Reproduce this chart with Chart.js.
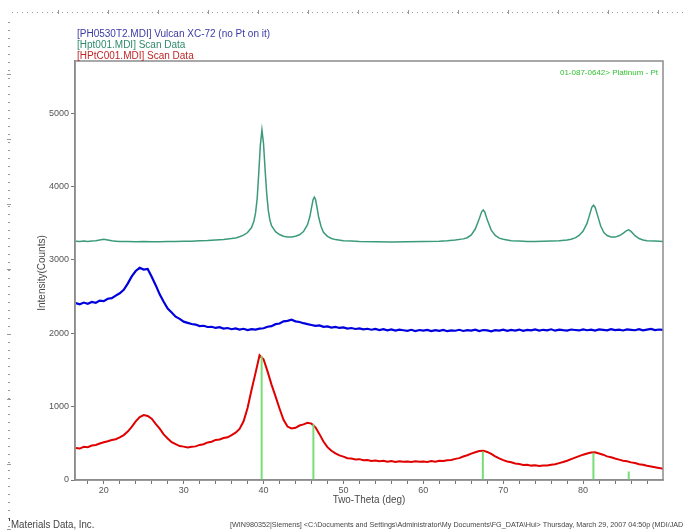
<!DOCTYPE html>
<html>
<head>
<meta charset="utf-8">
<title>XRD scan overlay</title>
<script src="https://cdn.jsdelivr.net/npm/chart.js@4.4.0/dist/chart.umd.min.js"></script>
<style>
  html, body { margin: 0; padding: 0; background: #fff; }
  canvas { display: block; }
</style>
</head>
<body>
<canvas id="xrd-chart" width="683" height="532"></canvas>
<script>
// Two-theta grid shared by the Vulcan and HPtC scans (deg)
const angles = [
  16.5, 17, 17.5, 18, 18.5, 19, 19.5,
  20, 20.5, 21, 21.5, 22, 22.5, 23, 23.5, 24, 24.5,
  25, 25.5, 26, 26.5, 27, 27.5, 28, 28.5, 29, 29.5,
  30, 30.5, 31, 31.5, 32, 32.5, 33, 33.5, 34, 34.5,
  35, 35.5, 36, 36.5, 37, 37.5, 38, 38.5, 39, 39.5,
  40, 40.5, 41, 41.5, 42, 42.5, 43, 43.5, 44, 44.5,
  45, 45.5, 46, 46.5, 47, 47.5, 48, 48.5, 49, 49.5,
  50, 50.5, 51, 51.5, 52, 52.5, 53, 53.5, 54, 54.5,
  55, 55.5, 56, 56.5, 57, 57.5, 58, 58.5, 59, 59.5,
  60, 60.5, 61, 61.5, 62, 62.5, 63, 63.5, 64, 64.5,
  65, 65.5, 66, 66.5, 67, 67.5, 68, 68.5, 69, 69.5,
  70, 70.5, 71, 71.5, 72, 72.5, 73, 73.5, 74, 74.5,
  75, 75.5, 76, 76.5, 77, 77.5, 78, 78.5, 79, 79.5,
  80, 80.5, 81, 81.5, 82, 82.5, 83, 83.5, 84, 84.5,
  85, 85.5, 86, 86.5, 87, 87.5, 88, 88.5, 89, 89.5,
  90
];

// [PH0530T2.MDI] Vulcan XC-72 (no Pt on it)
const vulcanCounts = [
  2410, 2395, 2418, 2402, 2426, 2415, 2445,
  2438, 2470, 2478, 2512, 2545, 2592, 2676, 2775, 2848, 2892,
  2868, 2876, 2770, 2655, 2530, 2428, 2335, 2282, 2225, 2196,
  2158, 2142, 2126, 2118, 2098, 2102, 2085, 2088, 2072, 2082,
  2064, 2071, 2055, 2066, 2050, 2061, 2044, 2057, 2049, 2062,
  2068, 2088, 2097, 2124, 2133, 2162, 2168, 2184, 2162, 2153,
  2137, 2124, 2112, 2101, 2106, 2088, 2094, 2078, 2086, 2072,
  2080, 2064, 2071, 2058, 2066, 2052, 2061, 2048, 2058, 2044,
  2055, 2040, 2052, 2036, 2048, 2041, 2033, 2047, 2030, 2044,
  2035, 2046, 2029, 2041, 2033, 2045, 2028, 2040, 2034, 2047,
  2031, 2043, 2036, 2049, 2030, 2044, 2038, 2026, 2042, 2035,
  2048, 2033, 2045, 2037, 2050, 2032, 2046, 2039, 2052, 2036,
  2047, 2040, 2054, 2035, 2049, 2042, 2037, 2051, 2044, 2038,
  2053, 2041, 2048, 2036, 2052, 2045, 2039, 2055, 2043, 2050,
  2038, 2052, 2046, 2041, 2056, 2040, 2049, 2058, 2043, 2051,
  2046
];

// [HPtC001.MDI] Scan Data
const hptcCounts = [
  436, 428, 452, 448, 470, 478, 498,
  514, 528, 545, 556, 580, 612, 660, 725, 800, 858,
  885, 872, 835, 765, 700, 622, 565, 515, 488, 462,
  455, 442, 452, 458, 478, 488, 512, 522, 546, 552,
  572, 582, 612, 645, 695, 800, 980, 1230, 1460, 1700,
  1645, 1480, 1300, 1140, 975, 820, 728, 702, 712, 742,
  758, 780, 768, 718, 625, 525, 448, 398, 362, 335,
  318, 296, 292, 280, 284, 268, 272, 258, 266, 255,
  262, 250, 258, 246, 255, 248, 252, 244, 256, 248,
  252, 246, 258, 250, 262, 258, 270, 272, 288, 298,
  320, 338, 360, 378, 395, 400, 382, 355, 322, 295,
  270, 252, 242, 225, 218, 206, 208, 196, 200, 190,
  196, 198, 208, 215, 230, 245, 262, 285, 305, 325,
  345, 362, 375, 378, 362, 345, 322, 310, 292, 278,
  262, 255, 240, 232, 215, 208, 195, 185, 175, 165,
  152
];

// [Hpt001.MDI] Scan Data, sampled finer around the sharp Pt reflections
const hptAngles = [
  16.5, 17, 17.5, 18, 18.5, 19, 19.5, 20, 20.5, 21, 21.5, 22, 23, 24, 25, 26, 27, 28, 29,
  30, 31, 32, 33, 34, 35, 36, 36.5, 37, 37.5, 38, 38.5, 38.8, 39, 39.2, 39.4, 39.6, 39.8,
  40, 40.2, 40.4, 40.6, 40.8, 41, 41.5, 42, 42.5, 43, 43.5, 44, 44.5, 45, 45.5, 45.8,
  46, 46.2, 46.35, 46.5, 46.7, 46.9, 47.2, 47.5, 48, 48.5, 49, 50, 51, 52, 54, 56, 58,
  60, 62, 63, 64, 65, 65.5, 66, 66.5, 67, 67.3, 67.5, 67.7, 68, 68.5, 69, 69.5,
  70, 71, 72, 73, 74, 75, 76, 77, 78, 78.5, 79, 79.5, 80, 80.5, 80.8, 81.1, 81.3, 81.5,
  81.8, 82.2, 82.6, 83, 83.5, 84, 84.5, 85, 85.4, 85.7, 86, 86.5, 87, 87.5, 88, 89, 90
];
const hptCounts = [
  3255, 3249, 3256, 3250, 3257, 3262, 3272, 3282, 3272, 3260, 3254, 3249, 3251, 3246, 3250, 3248, 3246, 3250, 3249,
  3254, 3255, 3259, 3263, 3270, 3278, 3290, 3298, 3314, 3336, 3372, 3440, 3530, 3640, 3830, 4180, 4560, 4770,
  4580, 4220, 3900, 3670, 3540, 3465, 3385, 3345, 3322, 3312, 3312, 3322, 3342, 3385, 3480, 3590,
  3710, 3820, 3855, 3825, 3710, 3580, 3455, 3375, 3320, 3292, 3276, 3262, 3256, 3250, 3246, 3244, 3248,
  3250, 3255, 3260, 3270, 3286, 3302, 3340, 3420, 3560, 3655, 3680, 3650, 3545, 3405, 3332, 3296,
  3280, 3262, 3256, 3251, 3250, 3253, 3256, 3260, 3270, 3282, 3300, 3332, 3392, 3500, 3610, 3720, 3745, 3718,
  3610, 3462, 3372, 3332, 3312, 3310, 3328, 3360, 3396, 3408, 3388, 3330, 3290, 3272, 3262, 3256, 3250
];

// 01-087-0642> Platinum - Pt reference lines
const ptAngles = [39.76, 46.24, 67.45, 81.29, 85.71];
const ptHeights = [1690, 760, 390, 370, 115];

// Axis ticks
const xTicks = [18, 20, 22, 24, 26, 28, 30, 32, 34, 36, 38, 40, 42, 44, 46, 48, 50, 52,
  54, 56, 58, 60, 62, 64, 66, 68, 70, 72, 74, 76, 78, 80, 82, 84, 86, 88];
const xLabels = [20, 30, 40, 50, 60, 70, 80];
const yTicks = [0, 1000, 2000, 3000, 4000, 5000];

const legendLines = [
  { text: '[PH0530T2.MDI] Vulcan XC-72 (no Pt on it)', color: '#3a3aa6' },
  { text: '[Hpt001.MDI] Scan Data', color: '#2f8a6c' },
  { text: '[HPtC001.MDI] Scan Data', color: '#c02626' }
];

const SANS = '"Liberation Sans", Arial, sans-serif';

function toPoints(xs, ys) {
  return xs.map((x, i) => ({ x: x, y: ys[i] }));
}

function stickPoints() {
  const pts = [];
  ptAngles.forEach((a, i) => {
    pts.push({ x: a, y: 0 }, { x: a, y: ptHeights[i] }, { x: a, y: null });
  });
  return pts;
}

// Jade prints in a condensed face; squeeze the regular one horizontally
function narrowText(ctx, text, x, y, squeeze) {
  ctx.save();
  ctx.translate(x, y);
  ctx.scale(squeeze, 1);
  ctx.fillText(text, 0, 0);
  ctx.restore();
}

/**
 * Page decorations: rulers, file legend, card label, axis titles, footer
 */
const pageDecor = {
  id: 'pageDecor',
  afterDraw(chart) {
    const ctx = chart.ctx;
    const area = chart.chartArea;
    ctx.save();

    // frame around the plot
    ctx.strokeStyle = '#8c8c8c';
    ctx.lineWidth = 1.5;
    ctx.strokeRect(area.left, area.top, area.right - area.left, area.bottom - area.top);

    // top ruler
    ctx.fillStyle = '#9a9a9a';
    for (let x = 12; x < chart.width; x += 5) {
      ctx.fillRect(x, 12, 1, 1);
    }
    for (let x = 58; x < chart.width; x += 50) {
      ctx.fillRect(x, 10, 1, 4);
    }
    // left ruler
    for (let y = 22; y < chart.height; y += 8) {
      ctx.fillRect(8, y, 2, 1);
    }
    for (let y = 74; y < chart.height; y += 65) {
      ctx.fillRect(7, y, 4, 1);
    }

    // scan legend
    ctx.textBaseline = 'alphabetic';
    ctx.textAlign = 'left';
    ctx.font = '10px ' + SANS;
    legendLines.forEach((line, i) => {
      ctx.fillStyle = line.color;
      ctx.fillText(line.text, 77, 37 + i * 11.2);
    });

    // reference card label
    ctx.fillStyle = '#33c233';
    ctx.font = '8px ' + SANS;
    ctx.textAlign = 'right';
    ctx.fillText('01-087-0642> Platinum - Pt', area.right - 5, area.top + 14);

    // axis titles
    ctx.fillStyle = '#4a4a4a';
    ctx.textAlign = 'center';
    ctx.font = '11px ' + SANS;
    narrowText(ctx, 'Two-Theta (deg)', (area.left + area.right) / 2, 503, 0.9);
    ctx.save();
    ctx.translate(45, 273);
    ctx.rotate(-Math.PI / 2);
    ctx.font = '10px ' + SANS;
    ctx.fillText('Intensity(Counts)', 0, 0);
    ctx.restore();

    // footer
    ctx.textAlign = 'left';
    ctx.fillStyle = '#444';
    ctx.fillRect(9, 518, 1, 3);
    ctx.font = '11px ' + SANS;
    narrowText(ctx, 'Materials Data, Inc.', 11, 528, 0.88);
    ctx.font = '7.2px ' + SANS;
    ctx.fillText('[WIN980352|Siemens] <C:\\Documents and Settings\\Administrator\\My Documents\\FG_DATA\\Hui> Thursday, March 29, 2007 04:50p (MDI/JADE7)', 230, 527);

    ctx.restore();
  }
};

const ctx = document.getElementById('xrd-chart');
const xrdChart = new Chart(ctx, {
  type: 'line',
  data: {
    datasets: [
      {
        label: 'Pt',
        data: stickPoints(),
        borderColor: 'rgb(120, 222, 120)',
        borderWidth: 2,
        spanGaps: false,
        order: 0
      },
      {
        label: 'HPtC001',
        data: toPoints(angles, hptcCounts),
        borderColor: '#e00000',
        borderWidth: 2,
        order: 1
      },
      {
        label: 'PH0530T2',
        data: toPoints(angles, vulcanCounts),
        borderColor: '#0000dc',
        borderWidth: 2.2,
        order: 2
      },
      {
        label: 'Hpt001',
        data: toPoints(hptAngles, hptCounts),
        borderColor: '#3b9a7c',
        borderWidth: 1.5,
        order: 3
      }
    ]
  },
  options: {
    responsive: false,
    animation: false,
    devicePixelRatio: 1,
    layout: {
      padding: { top: 61, right: 20, left: 0, bottom: 0 }
    },
    elements: {
      point: { radius: 0 },
      line: { tension: 0 }
    },
    plugins: {
      legend: { display: false },
      tooltip: { enabled: false }
    },
    scales: {
      x: {
        type: 'linear',
        min: 16.4,
        max: 90,
        afterBuildTicks: (scale) => {
          scale.ticks = xTicks.map(v => ({ value: v }));
        },
        afterFit: (scale) => {
          scale.height = 52;
        },
        ticks: {
          autoSkip: false,
          maxRotation: 0,
          padding: 1,
          color: '#555',
          font: { family: SANS, size: 9 },
          callback: (v) => (xLabels.includes(v) ? String(v) : '')
        },
        grid: { drawOnChartArea: false, tickLength: 4, color: '#777' },
        border: { color: '#8c8c8c', width: 1.5 }
      },
      y: {
        min: 0,
        max: 5710,
        afterBuildTicks: (scale) => {
          scale.ticks = yTicks.map(v => ({ value: v }));
        },
        afterFit: (scale) => {
          scale.width = 75;
        },
        ticks: {
          padding: 2,
          color: '#555',
          font: { family: SANS, size: 9 },
          callback: (v) => String(v)
        },
        grid: { drawOnChartArea: false, tickLength: 4, color: '#777' },
        border: { color: '#8c8c8c', width: 1.5 }
      }
    }
  },
  plugins: [pageDecor]
});
</script>
</body>
</html>
